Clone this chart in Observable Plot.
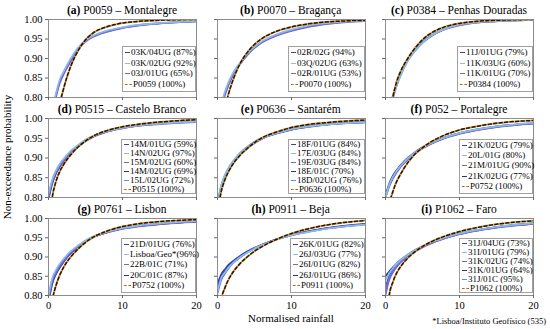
<!DOCTYPE html>
<html><head><meta charset="utf-8">
<script src="https://cdn.jsdelivr.net/npm/d3@7"></script>
<script src="https://cdn.jsdelivr.net/npm/@observablehq/plot@0.6"></script>
<style>
body{margin:0;background:#fff;font-family:"Liberation Serif","Times New Roman",serif;}
#root{position:relative;width:550px;height:329px;overflow:hidden;background:#fff;color:#000}
.title{position:absolute;font-size:11.5px;text-align:center;white-space:nowrap;line-height:12px}
.legend{position:absolute;border:1px solid #a0a0a0;background:#fff;font-size:9px;box-sizing:border-box;padding:0 0 1px 2px;display:flex;flex-direction:column;justify-content:space-around;white-space:nowrap;overflow:visible}
.legend .row{display:flex;align-items:center;line-height:9px;height:9px;flex-shrink:0}
.mk{display:inline-block;flex-shrink:0;width:5px;height:0;border-top:1.6px solid;margin-right:1px}
.mk.ref{width:7px;border-top:1.6px dashed #b8641e}
.lab{position:absolute;white-space:nowrap}
svg.plotpanel{position:absolute}
</style></head><body><div id="root"></div>
<script>
// x positions (normalised rainfall) where the curves were read
const xs = [0, 0.5, 1, 1.5, 2, 3, 4, 5, 6, 8, 10, 12, 15, 20];

const titleLetters = ["(a)", "(b)", "(c)", "(d)", "(e)", "(f)", "(g)", "(h)", "(i)"];
const titleNames = ["P0059 – Montalegre", "P0070 – Bragança", "P0384 – Penhas Douradas",
  "P0515 – Castelo Branco", "P0636 – Santarém", "P052 – Portalegre",
  "P0761 – Lisbon", "P0911 – Beja", "P1062 – Faro"];

// (a)
const labelsA = ["03K/04UG (87%)", "03K/02UG (92%)", "03J/01UG (65%)", "P0059 (100%)"];
const gaugesA = [
  [0.70,0.76,0.805,0.84,0.86,0.895,0.925,0.945,0.957,0.970,0.979,0.985,0.990,0.995],
  [0.70,0.765,0.81,0.845,0.865,0.90,0.928,0.947,0.958,0.972,0.98,0.986,0.991,0.996],
  [0.69,0.755,0.80,0.835,0.858,0.893,0.922,0.943,0.955,0.969,0.978,0.984,0.99,0.995]];
const refA = [0.55,0.65,0.72,0.78,0.82,0.88,0.92,0.948,0.965,0.982,0.991,0.995,0.998,1.0];
// (b)
const labelsB = ["02R/02G (94%)", "03Q/02UG (63%)", "02R/01UG (53%)", "P0070 (100%)"];
const gaugesB = [
  [0.70,0.77,0.81,0.835,0.855,0.885,0.91,0.928,0.942,0.96,0.972,0.981,0.99,0.997],
  [0.72,0.78,0.815,0.84,0.86,0.888,0.912,0.93,0.944,0.962,0.974,0.983,0.991,0.997],
  [0.70,0.765,0.805,0.832,0.853,0.884,0.908,0.927,0.941,0.959,0.971,0.98,0.989,0.996]];
const refB = [0.60,0.70,0.77,0.81,0.84,0.885,0.915,0.936,0.951,0.97,0.981,0.988,0.994,0.998];
// (c)
const labelsC = ["11J/01UG (79%)", "11K/03UG (60%)", "11K/01UG (70%)", "P0384 (100%)"];
const gaugesC = [
  [0.72,0.76,0.80,0.83,0.855,0.895,0.92,0.94,0.955,0.975,0.986,0.992,0.996,0.999],
  [0.70,0.75,0.795,0.83,0.855,0.893,0.92,0.94,0.956,0.976,0.987,0.992,0.996,0.999],
  [0.73,0.77,0.805,0.835,0.86,0.897,0.923,0.942,0.957,0.975,0.985,0.991,0.995,0.999]];
const refC = [0.65,0.74,0.80,0.84,0.865,0.90,0.927,0.948,0.963,0.981,0.99,0.995,0.998,1.0];
// (d)
const labelsD = ["14M/01UG (59%)", "14N/02UG (97%)", "15M/02UG (60%)", "14M/02UG (69%)", "15L/02UG (72%)", "P0515 (100%)"];
const gaugesD = [
  [0.80,0.84,0.865,0.88,0.893,0.915,0.93,0.945,0.955,0.968,0.976,0.982,0.987,0.993],
  [0.81,0.845,0.868,0.885,0.897,0.918,0.933,0.946,0.956,0.968,0.976,0.982,0.987,0.992],
  [0.80,0.838,0.862,0.878,0.891,0.913,0.929,0.943,0.954,0.967,0.975,0.981,0.986,0.991],
  [0.795,0.835,0.86,0.877,0.89,0.912,0.928,0.942,0.953,0.967,0.976,0.982,0.988,0.994],
  [0.805,0.842,0.866,0.882,0.895,0.916,0.931,0.945,0.955,0.968,0.977,0.983,0.988,0.994]];
const refD = [0.72,0.80,0.84,0.865,0.882,0.908,0.928,0.943,0.955,0.97,0.979,0.985,0.991,0.997];
// (e)
const labelsE = ["18F/01UG (84%)", "17E/03UG (84%)", "19E/03UG (84%)", "18E/01C (70%)", "18D/02UG (76%)", "P0636 (100%)"];
const gaugesE = [
  [0.78,0.825,0.853,0.872,0.887,0.91,0.926,0.94,0.95,0.963,0.973,0.98,0.986,0.992],
  [0.785,0.83,0.856,0.874,0.888,0.911,0.927,0.94,0.95,0.963,0.973,0.979,0.985,0.991],
  [0.78,0.826,0.852,0.871,0.885,0.908,0.925,0.938,0.949,0.962,0.972,0.979,0.985,0.991],
  [0.775,0.822,0.85,0.869,0.884,0.907,0.924,0.938,0.949,0.962,0.972,0.978,0.985,0.99],
  [0.785,0.83,0.857,0.875,0.889,0.912,0.928,0.941,0.951,0.964,0.974,0.98,0.986,0.992]];
const refE = [0.76,0.815,0.845,0.866,0.882,0.906,0.924,0.939,0.951,0.966,0.977,0.984,0.99,0.996];
// (f)
const labelsF = ["21K/02UG (79%)", "20L/01G (80%)", "21M/01UG (90%)", "21K/02UG (77%)", "P0752 (100%)"];
const gaugesF = [
  [0.80,0.83,0.85,0.865,0.878,0.898,0.913,0.925,0.935,0.951,0.962,0.97,0.979,0.988],
  [0.80,0.832,0.852,0.867,0.879,0.899,0.914,0.926,0.936,0.952,0.963,0.971,0.98,0.989],
  [0.80,0.828,0.848,0.863,0.876,0.896,0.912,0.924,0.934,0.95,0.961,0.969,0.978,0.987],
  [0.805,0.835,0.855,0.869,0.881,0.90,0.915,0.927,0.937,0.952,0.963,0.971,0.98,0.988]];
const refF = [0.70,0.78,0.815,0.84,0.858,0.888,0.91,0.926,0.939,0.958,0.971,0.979,0.988,0.995];
// (g)
const labelsG = ["21D/01UG (76%)", "Lisboa/Geo*(96%)", "22B/01C (71%)", "20C/01C (87%)", "P0752 (100%)"];
const gaugesG = [
  [0.79,0.84,0.862,0.878,0.89,0.912,0.928,0.942,0.952,0.965,0.974,0.98,0.986,0.992],
  [0.80,0.845,0.866,0.882,0.894,0.915,0.93,0.943,0.953,0.966,0.975,0.981,0.987,0.993],
  [0.785,0.835,0.858,0.875,0.888,0.91,0.927,0.941,0.951,0.964,0.973,0.979,0.985,0.991],
  [0.78,0.83,0.855,0.872,0.886,0.909,0.926,0.94,0.951,0.965,0.974,0.98,0.986,0.992]];
const refG = [0.70,0.785,0.825,0.852,0.872,0.90,0.921,0.938,0.951,0.968,0.979,0.986,0.992,0.997];
// (h)
const labelsH = ["26K/01UG (82%)", "26J/03UG (77%)", "26I/01UG (82%)", "26J/01UG (86%)", "P0911 (100%)"];
const gaugesH = [
  [0.83,0.855,0.868,0.88,0.888,0.902,0.914,0.924,0.932,0.946,0.957,0.965,0.975,0.985],
  [0.81,0.845,0.86,0.873,0.883,0.899,0.911,0.922,0.931,0.945,0.956,0.964,0.974,0.984],
  [0.805,0.84,0.857,0.871,0.882,0.898,0.911,0.922,0.931,0.946,0.957,0.965,0.975,0.985],
  [0.815,0.848,0.863,0.876,0.886,0.901,0.913,0.923,0.932,0.946,0.957,0.966,0.976,0.986]];
const refH = [0.72,0.79,0.82,0.842,0.858,0.882,0.90,0.915,0.927,0.946,0.961,0.972,0.984,0.995];
// (i)
const labelsI = ["31J/04UG (73%)", "31I/01UG (79%)", "31K/02UG (74%)", "31K/01UG (64%)", "31J/01C (95%)", "P1062 (100%)"];
const gaugesI = [
  [0.82,0.85,0.866,0.878,0.888,0.903,0.916,0.926,0.935,0.949,0.96,0.968,0.977,0.987],
  [0.84,0.858,0.871,0.882,0.891,0.906,0.918,0.928,0.937,0.95,0.961,0.969,0.978,0.988],
  [0.80,0.84,0.86,0.874,0.885,0.901,0.914,0.925,0.934,0.948,0.959,0.967,0.976,0.986],
  [0.85,0.862,0.873,0.883,0.892,0.906,0.918,0.928,0.937,0.95,0.961,0.969,0.978,0.988],
  [0.81,0.845,0.863,0.876,0.887,0.902,0.915,0.926,0.935,0.949,0.96,0.968,0.977,0.987]];
const refI = [0.70,0.80,0.835,0.858,0.874,0.897,0.914,0.927,0.938,0.954,0.966,0.975,0.985,0.994];

const xTicks = [0, 10, 20];
const yTicks = [0.80, 0.85, 0.90, 0.95, 1.00];
const gaugeColors = ["#3346a8", "#86bdec", "#7a62c9", "#2a3388", "#5a8fe4"];
const refOrange = "#e9a23f";

const panels = [
  [labelsA, gaugesA, refA], [labelsB, gaugesB, refB], [labelsC, gaugesC, refC],
  [labelsD, gaugesD, refD], [labelsE, gaugesE, refE], [labelsF, gaugesF, refF],
  [labelsG, gaugesG, refG], [labelsH, gaugesH, refH], [labelsI, gaugesI, refI]];

// layout
const plotLefts = [48, 216.7, 385];
const plotTops = [19, 118, 218];
const plotHs = [78, 79, 77];
const plotW = 148;
const titleYs = [10, 108.5, 209];
const legLefts = [[122, 288, 457], [121, 288, 459], [121, 290, 459]];
const legTops = [27, 21, 20];
const legBots = [73, 76, 75];
const mL = 34, mR = 4, mT = 4, mB = 16;

const root = document.getElementById("root");

panels.forEach(([labels, gauges, ref], k) => {
  const row = Math.floor(k / 3), col = k % 3;
  const px = plotLefts[col], py = plotTops[row], ph = plotHs[row];
  const toRows = vals => xs.map((x, j) => ({x, y: vals[j]}));
  const marks = [];
  // draw darker series first so the lighter/purple ones sit on top
  const order = [3, 0, 4, 2, 1].filter(i => i < gauges.length);
  order.forEach(i => {
    marks.push(Plot.line(toRows(gauges[i]), {x: "x", y: "y", stroke: gaugeColors[i], strokeWidth: 1.7, curve: "monotone-x", clip: true}));
  });
  marks.push(Plot.line(toRows(ref), {x: "x", y: "y", stroke: refOrange, strokeWidth: 2, curve: "monotone-x", clip: true}));
  marks.push(Plot.line(toRows(ref), {x: "x", y: "y", stroke: "#1a1a1a", strokeWidth: 1.5, strokeDasharray: "3,2.5", curve: "monotone-x", clip: true}));
  marks.push(Plot.frame({stroke: "#8c8c8c", strokeWidth: 1}));
  marks.push(Plot.axisX({ticks: xTicks, tickSize: 3, tickPadding: 3, stroke: "#666",
    tickFormat: row === 2 ? d => String(d) : () => "", label: null, fontSize: 10.5}));
  marks.push(Plot.axisY({ticks: yTicks, tickSize: 3, tickPadding: 3, stroke: "#666",
    tickFormat: col === 0 ? d3.format(".2f") : () => "", label: null, fontSize: 10.5}));
  const svg = Plot.plot({
    width: mL + plotW + mR, height: mT + ph + mB,
    marginLeft: mL, marginRight: mR, marginTop: mT, marginBottom: mB,
    style: {background: "transparent", fontFamily: "Liberation Serif, serif", fontSize: "10.5px", color: "#000", overflow: "visible", maxWidth: "none"},
    x: {domain: [0, 20]},
    y: {domain: [0.8, 1]},
    marks
  });
  svg.classList.add("plotpanel");
  svg.style.left = (px - mL) + "px";
  svg.style.top = (py - mT) + "px";
  root.appendChild(svg);

  // title
  const t = document.createElement("div");
  t.className = "title";
  t.style.left = px + "px"; t.style.width = plotW + "px";
  t.style.top = (titleYs[row] - 6) + "px";
  t.innerHTML = "<b>" + titleLetters[k] + "</b> " + titleNames[k];
  root.appendChild(t);

  // legend
  const lg = document.createElement("div");
  lg.className = "legend";
  const ll = legLefts[row][col];
  lg.style.left = ll + "px";
  lg.style.width = (px + plotW - ll) + "px";
  lg.style.top = (py + legTops[row]) + "px";
  lg.style.height = (legBots[row] - legTops[row]) + "px";
  labels.forEach((lab, i) => {
    const r = document.createElement("div");
    r.className = "row";
    const mk = document.createElement("span");
    const isRef = i === labels.length - 1;
    mk.className = isRef ? "mk ref" : "mk";
    if (!isRef) mk.style.borderTopColor = gaugeColors[i];
    r.appendChild(mk);
    r.appendChild(document.createTextNode(lab));
    lg.appendChild(r);
  });
  root.appendChild(lg);
});

// axis titles and note
const yl = document.createElement("div");
yl.className = "lab";
yl.style.fontSize = "11px";
yl.style.left = "7px"; yl.style.top = "157px";
yl.style.transform = "translate(-50%,-50%) rotate(-90deg)";
yl.textContent = "Non-exceedance probability";
root.appendChild(yl);

const xl = document.createElement("div");
xl.className = "lab";
xl.style.fontSize = "11px";
xl.style.left = "291px"; xl.style.top = "318px";
xl.style.transform = "translate(-50%,-50%)";
xl.textContent = "Normalised rainfall";
root.appendChild(xl);

const note = document.createElement("div");
note.className = "lab";
note.style.fontSize = "8.5px";
note.style.right = "4px"; note.style.top = "316px";
note.textContent = "*Lisboa/Instituto Geofísico (535)";
root.appendChild(note);
</script>
</body></html>
